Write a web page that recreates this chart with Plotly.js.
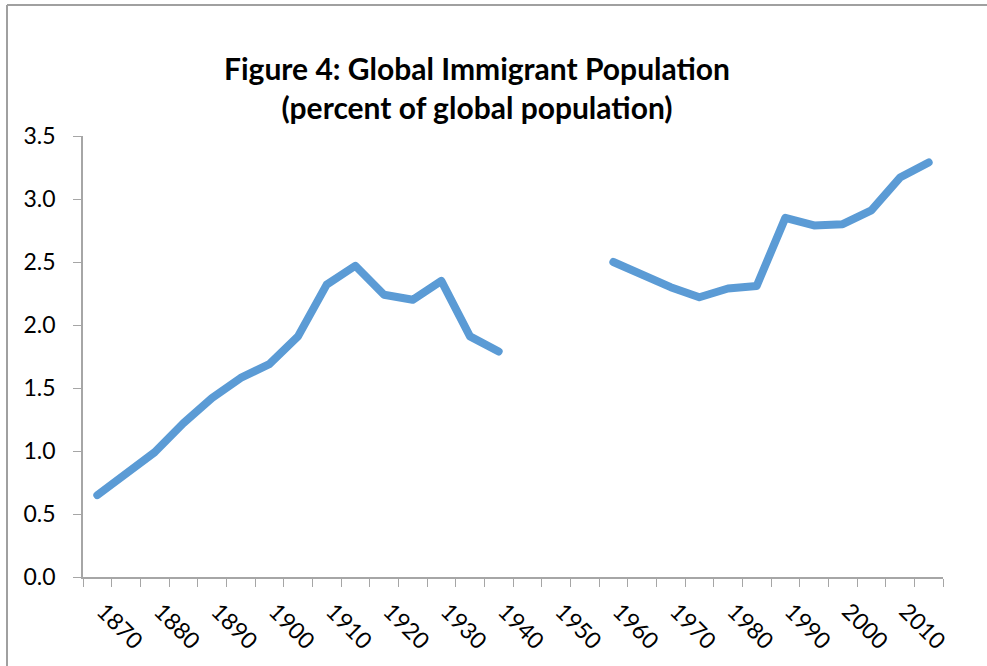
<!DOCTYPE html>
<html>
<head>
<meta charset="utf-8">
<script src="https://cdn.plot.ly/plotly-3.0.1.min.js"></script>
<style>
  html, body { margin: 0; padding: 0; background: #fff; }
  #chart { width: 987px; height: 666px; }
  .scatterlayer .js-line { stroke-linecap: round !important; stroke-linejoin: round !important; }
</style>
</head>
<body>
<div id="chart"></div>
<script>
// Data
var years = [1870, 1875, 1880, 1885, 1890, 1895, 1900, 1905, 1910, 1915,
             1920, 1925, 1930, 1935, 1940, 1945, 1950, 1955, 1960, 1965,
             1970, 1975, 1980, 1985, 1990, 1995, 2000, 2005, 2010, 2015];
var immigrantShare = [0.65, 0.83, 0.99, 1.22, 1.42, 1.58, 1.69, 1.91, 2.32, 2.47,
                      2.24, 2.20, 2.35, 1.91, 1.79, null, null, null, 2.50, 2.40,
                      2.30, 2.22, 2.29, 2.31, 2.85, 2.79, 2.80, 2.91, 3.17, 3.29];
var xTickVals = [1870, 1880, 1890, 1900, 1910, 1920, 1930, 1940, 1950, 1960, 1970, 1980, 1990, 2000, 2010];
var xTickText = ['1870', '1880', '1890', '1900', '1910', '1920', '1930', '1940', '1950', '1960', '1970', '1980', '1990', '2000', '2010'];
var yTickVals = [0, 0.5, 1.0, 1.5, 2.0, 2.5, 3.0, 3.5];

var W = 987, H = 666;
var m = { l: 83, r: 44, t: 136, b: 89 };
var pw = W - m.l - m.r, ph = H - m.t - m.b;
function px(x) { return (x - m.l) / pw; }
function py(y) { return (H - m.b - y) / ph; }

var axisGrey = '#a6a6a6';
var fontFam = 'Lato, "Open Sans", sans-serif';

var trace = {
  x: years,
  y: immigrantShare,
  type: 'scatter',
  mode: 'lines',
  connectgaps: false,
  line: { color: '#5B9BD5', width: 8 },
  hoverinfo: 'x+y',
  showlegend: false
};

var layout = {
  width: W,
  height: H,
  margin: m,
  paper_bgcolor: '#ffffff',
  plot_bgcolor: '#ffffff',
  font: { family: fontFam, color: '#000000', size: 23 },
  title: {
    text: '<b>Figure 4: Global Immigrant Population<br>(percent of global population)</b>',
    font: { family: fontFam, size: 30, color: '#000000' },
    x: 477 / W,
    xref: 'container',
    xanchor: 'center',
    y: 1 - 80 / H,
    yref: 'container',
    yanchor: 'top'
  },
  xaxis: {
    type: 'linear',
    range: [1867.5, 2017.5],
    tickmode: 'array',
    tickvals: xTickVals,
    ticktext: xTickText,
    tickangle: 45,
    ticks: '',
    ticklabelstandoff: 10,
    ticklabelshift: 6,
    showline: true,
    linecolor: axisGrey,
    linewidth: 1.5,
    showgrid: false,
    zeroline: false,
    tickfont: { family: fontFam, size: 23, color: '#000000' },
    minor: {
      tickmode: 'linear',
      tick0: 1867.5,
      dtick: 5,
      ticks: 'outside',
      ticklen: 8,
      tickwidth: 1.2,
      tickcolor: axisGrey,
      showgrid: false
    }
  },
  yaxis: {
    range: [0, 3.5],
    tickmode: 'array',
    tickvals: yTickVals,
    tickformat: '.1f',
    ticks: 'outside',
    ticklen: 8,
    tickwidth: 1.2,
    tickcolor: axisGrey,
    ticklabelstandoff: 13,
    showline: true,
    linecolor: axisGrey,
    linewidth: 1.5,
    showgrid: false,
    zeroline: false,
    tickfont: { family: fontFam, size: 23, color: '#000000' }
  },
  shapes: [
    { type: 'line', xref: 'paper', yref: 'paper', x0: px(7), x1: px(7), y0: py(H + 5), y1: py(5),
      line: { color: '#a0a0a0', width: 2 } },
    { type: 'line', xref: 'paper', yref: 'paper', x0: px(7), x1: px(W + 5), y0: py(5), y1: py(5),
      line: { color: '#a0a0a0', width: 2 } }
  ]
};

Plotly.newPlot('chart', [trace], layout, { displayModeBar: false, staticPlot: false });
</script>
</body>
</html>
